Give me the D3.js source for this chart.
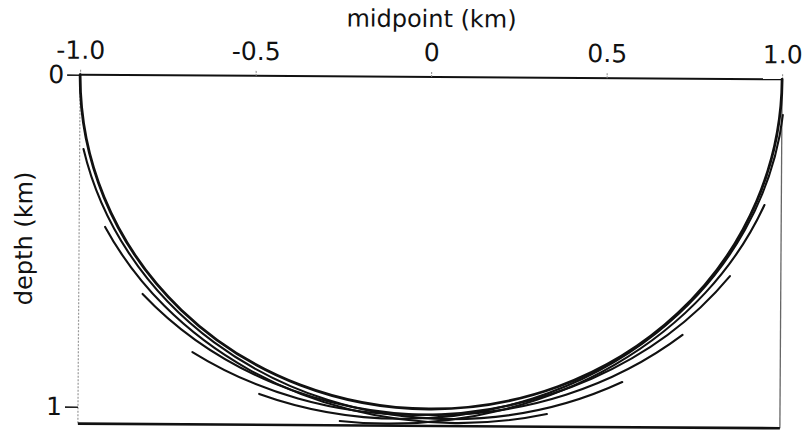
<!DOCTYPE html>
<html>
<head>
<meta charset="utf-8">
<script src="https://cdn.jsdelivr.net/npm/d3@7"></script>
<style>
  body { margin: 0; background: #fff; }
  text { font-family: "DejaVu Sans", sans-serif; fill: #111; }
</style>
</head>
<body>
<div id="chart"></div>
<script>
// axis ticks
const xTicks = [-1, -0.5, 0, 0.5, 1];
const xTickLabels = ["-1.0", "-0.5", "0", "0.5", "1.0"];
const zTicks = [0, 1];
const zTickLabels = ["0", "1"];
const depthMax = 1.051; // bottom of the frame (km)

// ellipse arcs, centre on the surface. Each runs from its left end (x0,z0)
// through its lowest point (cx,b) to its right end (x1,z1); a = half-width (km)
const curveName = ["main", "c1", "c2", "c3", "c4", "c5", "c6"];
const curveX0 = [-1, -0.989, -0.926, -0.484, -0.254, -0.818, -0.675];
const curveZ0 = [0, 0.2235, 0.458, 0.958, 1.038, 0.659, 0.833];
const curveX1 = [1, 0.550, 0.336, 1.003, 0.952, 0.721, 0.855];
const curveZ1 = [0, 0.915, 1.013, 0.1075, 0.379, 0.772, 0.594];
const curveCx = [0, 0.058, 0.075, -0.083, -0.121, 0.012, -0.041];
const curveB  = [1, 1.03, 1.042, 1.03, 1.045, 1.018, 1.018];
const curveA  = [1, 1.072, 1.114, 1.092, 1.151, 1.088, 1.103];

const width = 805, height = 433;
const margin = {t: 77, r: 24, b: 7, l: 79};

const x = d3.scaleLinear().domain([-1, 1]).range([margin.l, width - margin.r]);
const z = d3.scaleLinear().domain([0, 1]).range([margin.t, 409]);

const svg = d3.select('#chart').append('svg')
  .attr('width', width)
  .attr('height', height);

// the scan is turned a little clockwise
const plot = svg.append('g')
  .attr('transform', 'rotate(0.37,430,251)');

plot.append('clipPath').attr('id', 'frame')
  .append('rect')
  .attr('x', x(-1) - 2).attr('y', z(0) - 2)
  .attr('width', x(1) - x(-1) + 4).attr('height', z(depthMax) - z(0) + 2);

// frame
plot.append('line')
  .attr('x1', x(-1)).attr('x2', x(-1)).attr('y1', z(0)).attr('y2', z(depthMax))
  .style('stroke', '#999').style('stroke-width', 1.2).style('stroke-dasharray', '2 1.5');
plot.append('line')
  .attr('x1', x(1)).attr('x2', x(1)).attr('y1', z(0)).attr('y2', z(depthMax))
  .style('stroke', '#666').style('stroke-width', 1.3);
plot.append('line')
  .attr('x1', x(-1)).attr('x2', x(1)).attr('y1', z(0)).attr('y2', z(0))
  .style('stroke', '#111').style('stroke-width', 2);
plot.append('line')
  .attr('x1', x(-1)).attr('x2', x(1)).attr('y1', z(depthMax)).attr('y2', z(depthMax))
  .style('stroke', '#111').style('stroke-width', 2.6);

// axes
const axisX = d3.axisTop(x)
  .tickValues(xTicks)
  .tickFormat((d, i) => xTickLabels[i])
  .tickSize(6)
  .tickPadding(10);
const axisXNode = plot.append('g')
  .attr('class', 'axis-x')
  .attr('transform', `translate(0,${z(0)})`)
  .call(axisX);
axisXNode.select('.domain').remove();
axisXNode.selectAll('line').style('stroke', '#888').style('stroke-dasharray', '2 1');
axisXNode.selectAll('text').style('font-size', '25px').style('font-family', '"DejaVu Sans", sans-serif').style('fill', '#111');

const axisZ = d3.axisLeft(z)
  .tickValues(zTicks)
  .tickFormat((d, i) => zTickLabels[i])
  .tickSize(13)
  .tickPadding(3);
const axisZNode = plot.append('g')
  .attr('class', 'axis-z')
  .attr('transform', `translate(${x(-1)},0)`)
  .call(axisZ);
axisZNode.select('.domain').remove();
axisZNode.selectAll('line').style('stroke', '#222').style('stroke-width', 1.6);
axisZNode.selectAll('text').style('font-size', '25px').style('font-family', '"DejaVu Sans", sans-serif').style('fill', '#111');

// titles
plot.append('text')
  .attr('x', x(0)).attr('y', 27)
  .attr('text-anchor', 'middle')
  .style('font-size', '24px')
  .text('midpoint (km)');
plot.append('text')
  .attr('transform', 'translate(32,241) rotate(-90)')
  .attr('text-anchor', 'middle')
  .style('font-size', '24px')
  .text('depth (km)');

// curves
const rx = a => x(a) - x(0);
const ry = b => z(b) - z(0);
function arcPath(i) {
  const a = rx(curveA[i]), b = ry(curveB[i]);
  let s = `M${x(curveX0[i])},${z(curveZ0[i])}`;
  s += `A${a},${b} 0 0 0 ${x(curveCx[i])},${z(curveB[i])}`;
  s += `A${a},${b} 0 0 0 ${x(curveX1[i])},${z(curveZ1[i])}`;
  return s;
}

plot.append('g')
  .attr('clip-path', 'url(#frame)')
  .selectAll('.curve')
  .data(curveName)
  .enter().append('path')
  .attr('class', 'curve')
  .attr('d', (d, i) => arcPath(i))
  .style('fill', 'none')
  .style('stroke', '#111')
  .style('stroke-width', d => d === 'main' ? 2.8 : 2.1)
  .style('stroke-linecap', 'round');
</script>
</body>
</html>
